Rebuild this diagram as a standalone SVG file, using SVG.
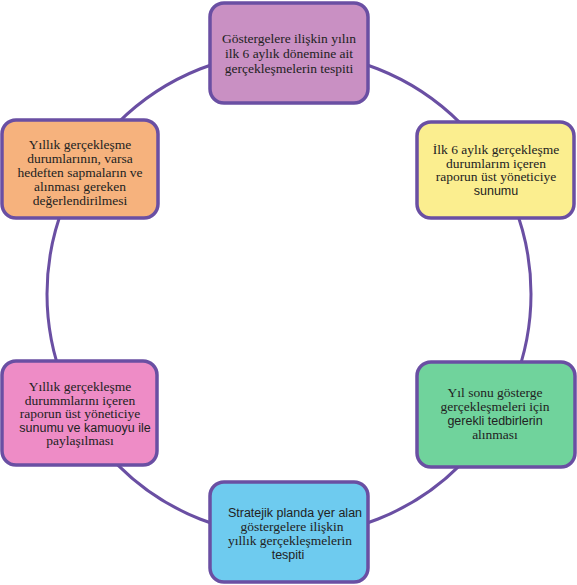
<svg xmlns="http://www.w3.org/2000/svg" width="577" height="585" viewBox="0 0 577 585">
<style>
.box{stroke:#6a4fa3;stroke-width:3.5}
.t{font-family:'Liberation Serif','DejaVu Serif',serif;font-size:13.5px;fill:#222;text-anchor:middle}
.s{font-family:'Liberation Sans','DejaVu Sans',sans-serif;font-size:12.5px}
.conn{fill:none;stroke:#6a4fa3;stroke-width:3}
</style>
<rect width="577" height="585" fill="#ffffff"/>
<g id="connectors">
<circle class="conn" cx="289" cy="294" r="242"/>
</g>
<g id="n1">
<rect class="box" x="210" y="3" width="158" height="100" rx="14" fill="#c990c3"/>
<text class="t" x="289" y="43">Göstergelere ilişkin yılın</text>
<text class="t" x="289" y="58">ilk 6 aylık dönemine ait</text>
<text class="t" x="289" y="73">gerçekleşmelerin tespiti</text>
</g>
<g id="n2">
<rect class="box" x="417" y="122" width="157" height="96" rx="14" fill="#fbee8f"/>
<text class="t" x="496" y="154">İlk 6 aylık gerçekleşme</text>
<text class="t" x="496" y="167.5">durumlarım içeren</text>
<text class="t" x="496" y="181">raporun üst yöneticiye</text>
<text class="t s" x="496" y="194.5">sunumu</text>
</g>
<g id="n3">
<rect class="box" x="2" y="120" width="156" height="98" rx="14" fill="#f6b27d"/>
<text class="t" x="80" y="149">Yıllık gerçekleşme</text>
<text class="t" x="80" y="163">durumlarının, varsa</text>
<text class="t" x="80" y="177">hedeften sapmaların ve</text>
<text class="t" x="80" y="191">alınması gereken</text>
<text class="t" x="80" y="205">değerlendirilmesi</text>
</g>
<g id="n4">
<rect class="box" x="2" y="361" width="155" height="104" rx="14" fill="#ee8cc6"/>
<text class="t" x="80" y="391">Yıllık gerçekleşme</text>
<text class="t" x="80" y="404.5">durummlarını içeren</text>
<text class="t" x="80" y="418">raporun üst yöneticiye</text>
<text class="t s" x="85" y="431.5">sunumu ve kamuoyu ile</text>
<text class="t" x="80" y="445">paylaşılması</text>
</g>
<g id="n5">
<rect class="box" x="417" y="362" width="158" height="105" rx="14" fill="#70d39c"/>
<text class="t" x="495" y="397">Yıl sonu gösterge</text>
<text class="t" x="495" y="411">gerçekleşmeleri için</text>
<text class="t s" x="495" y="425">gerekli tedbirlerin</text>
<text class="t" x="495" y="439">alınması</text>
</g>
<g id="n6">
<rect class="box" x="210" y="482" width="158" height="100" rx="14" fill="#6ecbef"/>
<text class="t s" x="295" y="517">Stratejik planda yer alan</text>
<text class="t" x="292" y="531">göstergelere ilişkin</text>
<text class="t" x="290" y="545">yıllık gerçekleşmelerin</text>
<text class="t s" x="288" y="559">tespiti</text>
</g>
</svg>
